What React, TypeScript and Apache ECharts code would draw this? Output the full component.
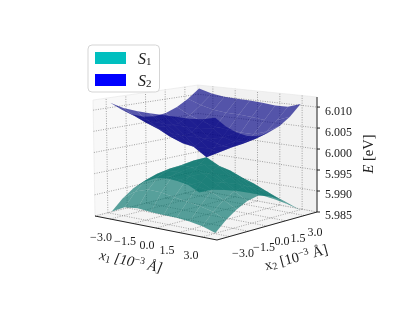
import React, { useEffect, useRef } from "react";
import * as echarts from "echarts";

const x1Ticks = [-3, -1.5, 0, 1.5, 3];
const x2Ticks = [-3, -1.5, 0, 1.5, 3];
const zTicks = [5.985, 5.99, 5.995, 6.0, 6.005, 6.01];
const x1Labels = ["\u22123.0", "\u22121.5", "0.0", "1.5", "3.0"];
const x2Labels = ["\u22123.0", "\u22121.5", "0.0", "1.5", "3.0"];
const zLabels = ["5.985", "5.990", "5.995", "6.000", "6.005", "6.010"];
const gridX = [-3.4, -2.55, -1.7, -0.85, 0, 0.85, 1.7, 2.55, 3.4];

// rows: x1 from -3.4 to 3.4; columns: x2 from -3.4 to 3.4
const s1Energy = [
  [5.986, 5.9885, 5.9903, 5.9913, 5.9915, 5.9909, 5.9896, 5.9879, 5.9853],
  [5.9876, 5.9907, 5.9929, 5.9937, 5.9939, 5.9929, 5.9913, 5.9892, 5.9866],
  [5.9879, 5.9917, 5.9943, 5.9955, 5.9957, 5.9946, 5.9925, 5.9898, 5.9871],
  [5.9876, 5.9915, 5.9946, 5.9967, 5.9973, 5.9957, 5.9929, 5.9901, 5.9874],
  [5.9875, 5.9909, 5.9939, 5.9965, 5.9985, 5.9959, 5.9931, 5.9903, 5.9875],
  [5.9874, 5.9904, 5.9933, 5.9957, 5.9969, 5.9953, 5.9927, 5.99, 5.9874],
  [5.9871, 5.9899, 5.9926, 5.9944, 5.9951, 5.994, 5.9921, 5.9896, 5.987],
  [5.9866, 5.9892, 5.9912, 5.9926, 5.9933, 5.9924, 5.9908, 5.9887, 5.9864],
  [5.9857, 5.9879, 5.9896, 5.9909, 5.9915, 5.9908, 5.9895, 5.9876, 5.9855],
];
const s2Energy = [
  [6.0117, 6.0097, 6.0081, 6.0071, 6.0068, 6.0071, 6.0082, 6.0098, 6.012],
  [6.0108, 6.0085, 6.0065, 6.005, 6.0048, 6.005, 6.0065, 6.0086, 6.0111],
  [6.0104, 6.0078, 6.0053, 6.0031, 6.0027, 6.0031, 6.0053, 6.0078, 6.0106],
  [6.0102, 6.0075, 6.0047, 6.0019, 6.0006, 6.0019, 6.0044, 6.0074, 6.0104],
  [6.0101, 6.0074, 6.0045, 6.0015, 5.9985, 6.0012, 6.0041, 6.0073, 6.0103],
  [6.01, 6.0074, 6.0045, 6.0015, 6.0001, 6.0007, 6.0038, 6.0071, 6.0101],
  [6.0099, 6.0072, 6.0045, 6.0024, 6.0017, 6.002, 6.0038, 6.0067, 6.0098],
  [6.0101, 6.0077, 6.0053, 6.0038, 6.0034, 6.0036, 6.0048, 6.0071, 6.0098],
  [6.0107, 6.0084, 6.0067, 6.0055, 6.005, 6.0054, 6.0064, 6.0082, 6.0108],
];

const R = 4;
const Z0 = 5.985;
const Z1 = 6.0124;
type P = [number, number];
const floorC: P[] = [[95, 216], [217, 240], [317, 212], [198, 190]];
const topC: P[] = [[93, 100], [217, 112], [317, 97], [198, 85]];

function bil(c: P[], u: number, v: number): P {
  return [
    c[0][0] * (1 - u) * (1 - v) + c[1][0] * u * (1 - v) + c[2][0] * u * v + c[3][0] * (1 - u) * v,
    c[0][1] * (1 - u) * (1 - v) + c[1][1] * u * (1 - v) + c[2][1] * u * v + c[3][1] * (1 - u) * v,
  ];
}
function project(x1: number, x2: number, z: number): P {
  const u = (x1 + R) / (2 * R);
  const v = (x2 + R) / (2 * R);
  const w = (z - Z0) / (Z1 - Z0);
  const a = bil(floorC, u, v);
  const b = bil(topC, u, v);
  return [a[0] + (b[0] - a[0]) * w, a[1] + (b[1] - a[1]) * w];
}

const cellData: number[][] = [];
for (let i = 0; i < gridX.length - 1; i++) for (let j = 0; j < gridX.length - 1; j++) cellData.push([i, j]);

function surfaceSeries(name: string, legendColor: string, table: number[][], fill: string, order: number) {
  return {
    name,
    type: "custom",
    coordinateSystem: "cartesian2d",
    clip: false,
    silent: true,
    z: order,
    itemStyle: { color: legendColor },
    data: cellData,
    renderItem: (_p: any, api: any) => {
      const i = api.value(0);
      const j = api.value(1);
      const corners = [[i, j], [i + 1, j], [i + 1, j + 1], [i, j + 1]];
      const points = corners.map(([a, b]) => api.coord(project(gridX[a], gridX[b], table[a][b])));
      return { type: "polygon", shape: { points }, style: { fill, stroke: "none" } };
    },
  };
}

const gridStyle = { stroke: "#8c8c8c", lineWidth: 0.8, lineDash: [1, 1.4], fill: "none" };
const axisStyle = { stroke: "#222", lineWidth: 1, fill: "none" };

function frameRender(_p: any, api: any) {
  const c = (x1: number, x2: number, z: number) => api.coord(project(x1, x2, z));
  const children: any[] = [];
  const poly = (pts: number[][], fill: string) =>
    children.push({ type: "polygon", shape: { points: pts }, style: { fill, stroke: "#e6e6e6", lineWidth: 0.6 } });
  poly([c(-R, -R, Z0), c(-R, R, Z0), c(-R, R, Z1), c(-R, -R, Z1)], "#f8f8f8");
  poly([c(-R, R, Z0), c(R, R, Z0), c(R, R, Z1), c(-R, R, Z1)], "#f1f1f1");
  poly([c(-R, -R, Z0), c(R, -R, Z0), c(R, R, Z0), c(-R, R, Z0)], "#f4f4f4");
  const line = (a: number[], b: number[], style: any) =>
    children.push({ type: "line", shape: { x1: a[0], y1: a[1], x2: b[0], y2: b[1] }, style });
  x1Ticks.forEach((t) => {
    line(c(t, -R, Z0), c(t, R, Z0), gridStyle);
    line(c(t, R, Z0), c(t, R, Z1), gridStyle);
  });
  x2Ticks.forEach((t) => {
    line(c(-R, t, Z0), c(R, t, Z0), gridStyle);
    line(c(-R, t, Z0), c(-R, t, Z1), gridStyle);
  });
  zTicks.forEach((t) => {
    line(c(-R, -R, t), c(-R, R, t), gridStyle);
    line(c(-R, R, t), c(R, R, t), gridStyle);
  });
  line(c(-R, -R, Z0), c(R, -R, Z0), axisStyle);
  line(c(R, -R, Z0), c(R, R, Z0), axisStyle);
  line(c(R, R, Z0), c(R, R, Z1), axisStyle);
  zTicks.forEach((t) => {
    const p = c(R, R, t);
    line(p, [p[0] + 3, p[1]], axisStyle);
  });
  return { type: "group", children };
}

const x1LabelPos: P[] = [[101, 237], [125, 241], [147, 245], [167, 250], [191, 255]];
const x2LabelPos: P[] = [[243, 253], [264, 247], [282, 241], [298, 238], [315, 232]];
const zLabelPos: P[] = [[325, 215], [325, 194], [325, 174], [325, 153], [325, 132], [325, 111]];

function labelsRender(_p: any, api: any) {
  const font = "12px 'Liberation Serif'";
  const children: any[] = [];
  const put = (labels: string[], pos: P[], align: string) =>
    labels.forEach((text, k) => {
      const p = api.coord(pos[k]);
      children.push({
        type: "text",
        style: { text, x: p[0], y: p[1], font, fill: "#222", align, verticalAlign: "middle" },
      });
    });
  put(x1Labels, x1LabelPos, "center");
  put(x2Labels, x2LabelPos, "center");
  put(zLabels, zLabelPos, "left");
  return { type: "group", children };
}

const titleRich = {
  i: { fontFamily: "Liberation Serif", fontStyle: "italic", fontSize: 14.5, fill: "#222", color: "#222" },
  r: { fontFamily: "Liberation Serif", fontSize: 14.5, fill: "#222", color: "#222" },
  sb: { fontFamily: "Liberation Serif", fontSize: 10, fill: "#222", color: "#222", verticalAlign: "bottom", padding: [6, 0, 0, 0] },
  sp: { fontFamily: "Liberation Serif", fontSize: 10, fill: "#222", color: "#222", verticalAlign: "top", padding: [0, 0, 5, 0] },
};

export default function App() {
  const ref = useRef<HTMLDivElement>(null);
  useEffect(() => {
    const chart = echarts.init(ref.current!, null, { renderer: "svg" });
    chart.setOption({
      animation: false,
      grid: { left: 0, right: 0, top: 0, bottom: 0 },
      xAxis: { type: "value", min: 0, max: 397, show: false },
      yAxis: { type: "value", min: 0, max: 317, inverse: true, show: false },
      legend: {
        left: 88,
        top: 45,
        orient: "vertical",
        data: ["S1", "S2"],
        itemWidth: 31,
        itemHeight: 12,
        itemGap: 6,
        padding: [5, 8, 4, 7],
        backgroundColor: "rgba(255,255,255,0.8)",
        borderColor: "#d5d5d5",
        borderWidth: 1,
        borderRadius: 4,
        icon: "rect",
        selectedMode: false,
        formatter: (n: string) => `{i|${n[0]}}{s|${n[1]}}`,
        textStyle: {
          rich: {
            i: { fontFamily: "Liberation Serif", fontStyle: "italic", fontSize: 16, color: "#222", padding: [0, 0, 0, 7], lineHeight: 16 },
            s: { fontFamily: "Liberation Serif", fontSize: 11, color: "#222", verticalAlign: "bottom", lineHeight: 16 },
          },
        },
      },
      series: [
        { name: "frame", type: "custom", coordinateSystem: "cartesian2d", clip: false, silent: true, z: 1, data: [[0, 0]], renderItem: frameRender },
        surfaceSeries("S1", "#00bfbf", s1Energy, "rgba(0,112,105,0.65)", 2),
        surfaceSeries("S2", "#0000ff", s2Energy, "rgba(0,0,130,0.65)", 3),
        { name: "labels", type: "custom", coordinateSystem: "cartesian2d", clip: false, silent: true, z: 4, data: [[0, 0]], renderItem: labelsRender },
      ],
      graphic: [
        {
          type: "text", x: 131, y: 261, rotation: (-12 * Math.PI) / 180, z: 10,
          style: { text: "{i|x}{sb|1}{i| [10}{sp|\u22123}{i| \u00c5]}", align: "center", verticalAlign: "middle", rich: titleRich },
        },
        {
          type: "text", x: 296, y: 257, rotation: (15 * Math.PI) / 180, z: 10,
          style: { text: "{r|x}{sb|2}{r| [10}{sp|\u22123}{r| \u00c5]}", align: "center", verticalAlign: "middle", rich: titleRich },
        },
        {
          type: "text", x: 368, y: 154, rotation: Math.PI / 2, z: 10,
          style: { text: "{i|E}{r| [eV]}", align: "center", verticalAlign: "middle", rich: titleRich },
        },
      ],
    });
    return () => chart.dispose();
  }, []);
  return <div ref={ref} style={{ position: "fixed", left: 0, top: 0, width: 397, height: 317 }} />;
}
